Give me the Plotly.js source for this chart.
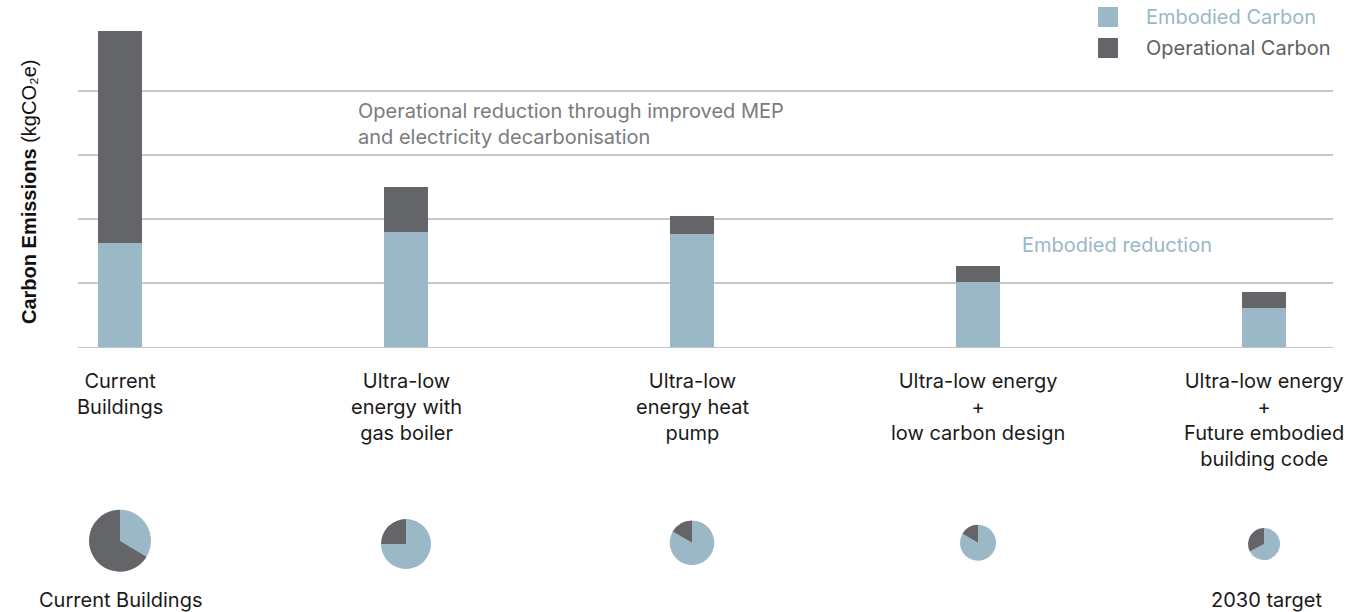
<!DOCTYPE html>
<html>
<head>
<meta charset="utf-8">
<script src="https://cdn.plot.ly/plotly-3.0.1.min.js"></script>
<style>
  html, body { margin: 0; padding: 0; background: #ffffff; }
  #chart { width: 1364px; height: 612px; }
</style>
</head>
<body>
<div id="chart"></div>
<script>
// Scenario labels (line breaks as drawn under each bar)
const scenarios = [
  "Current<br>Buildings",
  "Ultra-low<br>energy with<br>gas boiler",
  "Ultra-low<br>energy heat<br>pump",
  "Ultra-low energy<br>+<br>low carbon design",
  "Ultra-low energy<br>+<br>Future embodied<br>building code"
];

// Stacked bar values (kgCO2e, relative scale)
const embodiedCarbon    = [162, 180, 177, 102, 61];
const operationalCarbon = [332,  70,  28,  25, 25];

// Share of each scenario's total shown in the pies (%)
const pieEmbodiedShare    = [33.6, 75, 83.3, 83.3, 67.3];
const pieOperationalShare = [66.4, 25, 16.7, 16.7, 32.7];

const seriesNames = ["Embodied Carbon", "Operational Carbon"];
const pieCaptions = ["Current Buildings", "2030 target"];
const noteOperational = "Operational reduction through improved MEP<br>and electricity decarbonisation";
const noteEmbodied = "Embodied reduction";
const yTitle = "<b>Carbon Emissions</b> (kgCO₂e)";

// ---- styling / layout constants ----
const W = 1364, H = 612;
const C_EMB = "#9ab8c5";
const C_OPE = "#646569";
const FONT = "Inter, 'Noto Sans', sans-serif";
const plotLeft = 78, plotRight = 1333, plotTop = 27, plotBottom = 347;
const catStep = 286;          // px between category centres
const firstCentre = 120;      // px of first category centre
const barPx = 44;

const px = x => x / W;
const py = y => 1 - y / H;

const xr0 = -(firstCentre - plotLeft) / catStep;
const xr1 = (scenarios.length - 1) + (plotRight - (firstCentre + catStep * (scenarios.length - 1))) / catStep;

const traces = [
  {
    type: "bar", x: scenarios, y: embodiedCarbon, name: seriesNames[0],
    marker: { color: C_EMB, line: { width: 0 } }, width: barPx / catStep,
    xaxis: "x", yaxis: "y", showlegend: false, hoverinfo: "skip"
  },
  {
    type: "bar", x: scenarios, y: operationalCarbon, name: seriesNames[1],
    marker: { color: C_OPE, line: { width: 0 } }, width: barPx / catStep,
    xaxis: "x", yaxis: "y", showlegend: false, hoverinfo: "skip"
  }
];

// Pies below each bar: centre and radius in px
const pieCentreY = [540.7, 544, 542.7, 542.7, 544];
const pieRadius  = [31, 25, 22.3, 18, 16];
scenarios.forEach((s, i) => {
  const cx = firstCentre + catStep * i, cy = pieCentreY[i], r = pieRadius[i];
  traces.push({
    type: "pie",
    values: [pieEmbodiedShare[i], pieOperationalShare[i]],
    labels: seriesNames,
    marker: { colors: [C_EMB, C_OPE], line: { width: 0 } },
    sort: false, direction: "clockwise", rotation: 0,
    textinfo: "none", hoverinfo: "skip", showlegend: false,
    domain: { x: [px(cx - r), px(cx + r)], y: [py(cy + r), py(cy - r)] }
  });
});

const annotations = [];
// category labels under the bars
scenarios.forEach((s, i) => {
  annotations.push({
    xref: "x", yref: "paper", x: s, y: py(367), yanchor: "top", xanchor: "center",
    text: s, showarrow: false, align: "center",
    font: { family: FONT, size: 20, color: "#1a1a1a" }
  });
});
// notes inside the plot
annotations.push({
  xref: "paper", yref: "paper", x: px(356), y: py(124), xanchor: "left", yanchor: "middle",
  text: noteOperational, showarrow: false, align: "left",
  font: { family: FONT, size: 20, color: "#7a7b7e" }
});
annotations.push({
  xref: "paper", yref: "paper", x: px(1020), y: py(245), xanchor: "left", yanchor: "middle",
  text: noteEmbodied, showarrow: false, align: "left",
  font: { family: FONT, size: 20, color: C_EMB }
});
// pie captions
annotations.push({
  xref: "paper", yref: "paper", x: px(firstCentre), y: py(600), xanchor: "center", yanchor: "middle",
  text: pieCaptions[0], showarrow: false,
  font: { family: FONT, size: 20, color: "#1a1a1a" }
});
annotations.push({
  xref: "paper", yref: "paper", x: px(firstCentre + catStep * 4 + 2), y: py(600), xanchor: "center", yanchor: "middle",
  text: pieCaptions[1], showarrow: false,
  font: { family: FONT, size: 20, color: "#1a1a1a" }
});
// y-axis title
annotations.push({
  xref: "paper", yref: "paper", x: px(29), y: py(192), xanchor: "center", yanchor: "middle",
  text: yTitle, showarrow: false, textangle: -90,
  font: { family: "'Liberation Sans', Arial, sans-serif", size: 20, color: "#111111" }
});
// legend
const legendColors = [C_EMB, C_OPE];
const legendTextColors = [C_EMB, "#5e5f63"];
const legendRowY = [17, 48];
const shapes = [];
seriesNames.forEach((n, i) => {
  shapes.push({
    type: "rect", xref: "paper", yref: "paper",
    x0: px(1098), x1: px(1118), y0: py(legendRowY[i] + 10), y1: py(legendRowY[i] - 10),
    fillcolor: legendColors[i], line: { width: 0 }
  });
  annotations.push({
    xref: "paper", yref: "paper", x: px(1144), y: py(legendRowY[i]), xanchor: "left", yanchor: "middle",
    text: n, showarrow: false,
    font: { family: FONT, size: 20, color: legendTextColors[i] }
  });
});

const layout = {
  width: W, height: H,
  margin: { l: 0, r: 0, t: 0, b: 0 },
  paper_bgcolor: "#ffffff", plot_bgcolor: "#ffffff",
  barmode: "stack",
  showlegend: false,
  hovermode: false,
  xaxis: {
    domain: [px(plotLeft), px(plotRight)],
    type: "category", range: [xr0, xr1],
    showticklabels: false, ticks: "", showgrid: false, zeroline: false,
    showline: true, linecolor: "#c4c4c4", linewidth: 1.3
  },
  yaxis: {
    domain: [py(plotBottom), py(plotTop)],
    range: [0, 500],
    tickvals: [100, 200, 300, 400],
    showticklabels: false, ticks: "",
    showgrid: true, gridcolor: "#c8c8c8", gridwidth: 1.3,
    zeroline: false, showline: false
  },
  shapes: shapes,
  annotations: annotations
};

Plotly.newPlot("chart", traces, layout, { displayModeBar: false, staticPlot: true });
</script>
</body>
</html>
